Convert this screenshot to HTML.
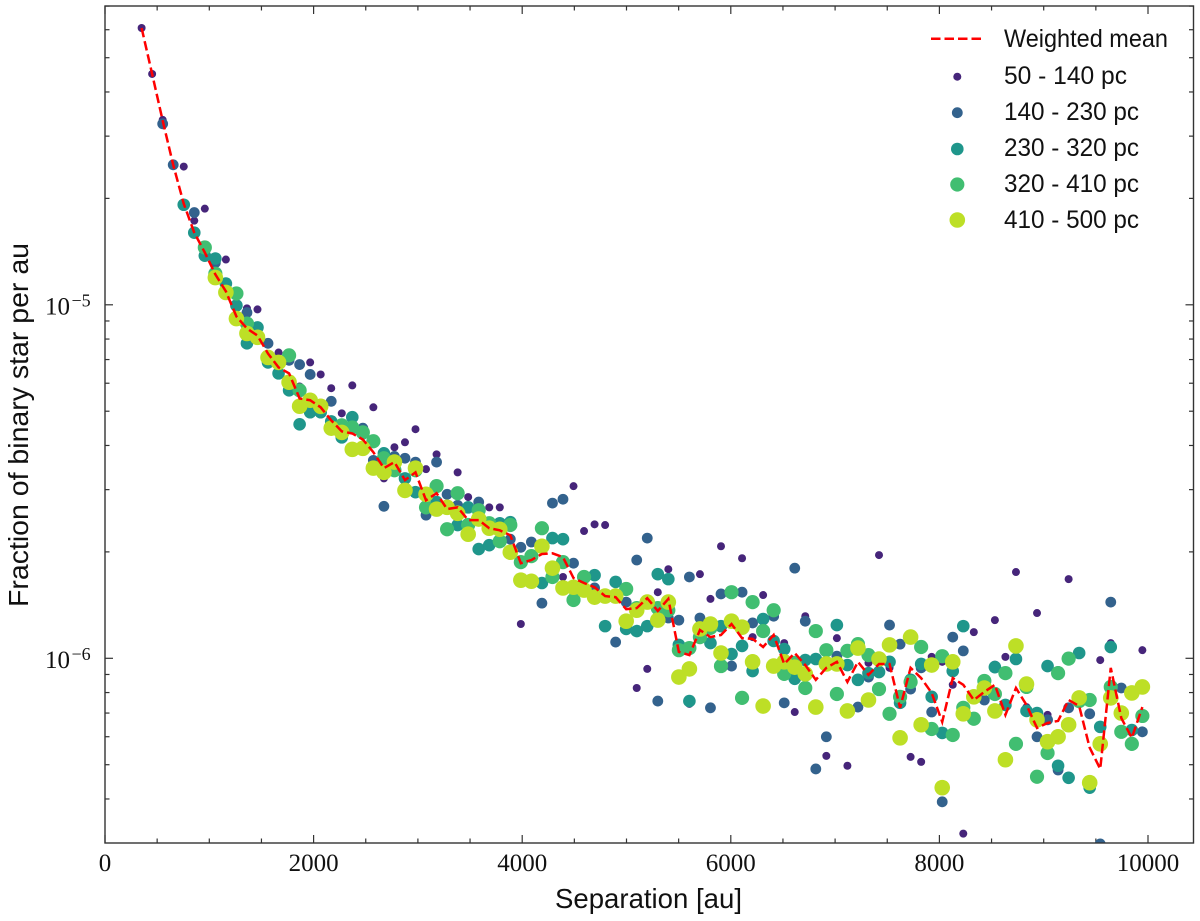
<!DOCTYPE html>
<html>
<head>
<meta charset="utf-8">
<title>Fraction of binary star per au</title>
<style>
html,body{margin:0;padding:0;background:#fff;}
svg{display:block;}
text{fill:#111;}
.sans{font-family:"Liberation Sans",sans-serif;}
.serif{font-family:"Liberation Serif",serif;}
</style>
</head>
<body>
<svg id="chart" xmlns="http://www.w3.org/2000/svg" width="1200" height="921" viewBox="0 0 1200 921">
  <defs><clipPath id="plot-clip"><rect x="105" y="6" width="1088.5" height="837"/></clipPath></defs>
  <rect x="0" y="0" width="1200" height="921" fill="#fff"/>
  <g id="ticks"></g>
  <g id="tick-labels"></g>
  <g id="marks" clip-path="url(#plot-clip)"></g>
  <g id="mean" clip-path="url(#plot-clip)"></g>
  <rect x="105" y="6" width="1088.5" height="837" fill="none" stroke="#333" stroke-width="1.4"/>
  <text class="sans" x="555" y="908" font-size="28" textLength="187" lengthAdjust="spacingAndGlyphs">Separation [au]</text>
  <text class="sans" transform="translate(28,607) rotate(-90)" font-size="28" textLength="364" lengthAdjust="spacingAndGlyphs">Fraction of binary star per au</text>
  <g>
    <line x1="931" y1="38.7" x2="982" y2="38.7" stroke="#ff0000" stroke-width="2.5" stroke-dasharray="9.5 4"/>
    <text class="sans" x="1004" y="47" font-size="25" textLength="164" lengthAdjust="spacingAndGlyphs">Weighted mean</text>
    <circle cx="957.3" cy="76.7" r="4" fill="#46257a"/>
    <text class="sans" x="1004" y="84" font-size="25" textLength="123" lengthAdjust="spacingAndGlyphs">50 - 140 pc</text>
    <circle cx="957.3" cy="112.7" r="5.4" fill="#33628d"/>
    <text class="sans" x="1004" y="120" font-size="25" textLength="135" lengthAdjust="spacingAndGlyphs">140 - 230 pc</text>
    <circle cx="957.3" cy="149" r="6.3" fill="#1f968b"/>
    <text class="sans" x="1004" y="156" font-size="25" textLength="135" lengthAdjust="spacingAndGlyphs">230 - 320 pc</text>
    <circle cx="957.3" cy="184.5" r="7.1" fill="#41be71"/>
    <text class="sans" x="1004" y="192" font-size="25" textLength="135" lengthAdjust="spacingAndGlyphs">320 - 410 pc</text>
    <circle cx="957.3" cy="220" r="7.8" fill="#bddf26"/>
    <text class="sans" x="1004" y="228" font-size="25" textLength="135" lengthAdjust="spacingAndGlyphs">410 - 500 pc</text>
  </g>
</svg>
<script>
const n = null;
// Separation of each bin in au.
const separations = [351,452,553,654,755,856,957,1058,1159,1260,
1361,1462,1563,1664,1765,1866,1967,2068,2169,2270,
2371,2472,2573,2674,2775,2876,2977,3078,3179,3280,
3381,3482,3583,3684,3785,3886,3987,4088,4189,4290,
4391,4492,4593,4694,4795,4896,4997,5098,5199,5300,
5401,5502,5603,5704,5805,5906,6007,6108,6209,6310,
6411,6512,6613,6714,6815,6916,7017,7118,7219,7320,
7421,7522,7623,7724,7825,7926,8027,8128,8229,8330,
8431,8532,8633,8734,8835,8936,9037,9138,9239,9340,
9441,9542,9643,9744,9845,9946];
// log10(fraction of binary star per au), one array per distance range.
const log10Fraction50to140 = [-4.217,-4.347,-4.477,n,-4.609,-4.762,-4.728,n,-4.872,n,
-5.010,-5.013,n,-5.135,n,-5.231,-5.163,-5.197,-5.236,-5.307,
-5.228,n,-5.290,-5.491,-5.403,-5.389,-5.352,-5.465,-5.423,n,
-5.474,-5.544,n,-5.573,-5.573,n,-5.903,n,n,n,
-5.770,-5.513,-5.640,-5.621,-5.623,n,n,-6.084,-6.030,-5.813,
-5.748,n,-6.129,-5.762,-5.832,-5.683,n,-5.717,-5.940,-5.821,
n,-5.957,-6.152,-5.881,n,-6.276,-5.943,-6.304,n,-6.013,
-5.708,-6.027,n,-6.279,-6.293,-5.996,-6.010,-6.075,-6.496,-5.926,
n,-5.892,-5.996,-5.756,-6.138,-5.872,-6.160,-6.033,-5.776,n,
n,-6.005,-5.957,n,n,-5.977];
const log10Fraction140to230 = [n,n,-4.488,-4.604,n,-4.739,n,-4.881,n,n,
-5.022,n,-5.109,n,-5.157,-5.169,-5.197,n,-5.273,n,
n,-5.349,-5.440,-5.570,-5.429,-5.434,-5.445,-5.595,-5.445,-5.536,
-5.567,n,-5.558,n,n,-5.663,-5.686,-5.671,-5.844,-5.561,
-5.550,-5.731,n,-5.801,n,-5.954,-5.841,-5.722,-5.660,-6.121,
-5.886,-5.892,-5.770,-5.886,-6.140,-5.818,-6.022,-5.813,-5.900,n,
-5.881,-6.126,-5.745,-5.895,-6.313,-6.222,-5.994,n,-6.138,-6.053,
n,-5.906,-5.960,-6.087,-6.027,-6.152,-6.406,-5.940,-5.979,n,
-6.118,-6.022,-6.132,n,-6.146,-6.222,-6.174,-6.316,-6.140,n,
-6.157,-6.525,-5.841,-6.084,n,-6.208];
const log10Fraction230to320 = [n,n,n,n,-4.717,-4.796,-4.861,-4.869,-4.940,-5.002,
-5.109,-5.064,-5.163,-5.194,-5.242,-5.338,-5.304,-5.304,-5.330,-5.375,
-5.318,-5.364,n,-5.420,n,-5.491,-5.530,n,-5.558,n,
-5.623,-5.573,-5.691,-5.680,-5.618,-5.615,n,n,-5.787,-5.660,
-5.663,n,n,-5.765,-5.909,-5.784,-5.917,-5.923,-5.909,-5.762,
-5.776,-5.962,-6.121,-5.934,-5.957,-5.909,-5.988,-5.965,-6.036,-5.889,
-5.951,-5.974,-6.058,-6.005,-6.002,n,-5.906,-6.019,-6.061,-6.042,
-6.039,-6.010,-6.126,-6.061,-6.016,-6.109,-6.211,-6.036,-5.909,n,
n,-6.025,-6.132,-6.002,-6.149,-6.155,-6.022,-6.304,-6.338,-5.985,
-6.366,-6.194,-5.968,n,-6.203,n];
const log10Fraction320to410 = [n,n,n,n,n,n,-4.838,-4.912,n,-4.968,
-5.053,n,n,n,-5.143,-5.242,-5.270,-5.290,n,-5.341,
-5.347,-5.361,-5.386,-5.434,-5.468,n,-5.468,-5.573,-5.513,-5.635,
-5.533,-5.623,-5.581,-5.618,-5.669,-5.623,-5.728,-5.711,-5.632,-5.770,
-5.728,-5.835,-5.770,n,n,n,-5.804,-5.858,n,-5.858,
-5.864,-5.977,-5.971,-5.940,-5.914,-6.022,-5.813,-6.112,-5.841,-5.923,
-5.864,-6.044,-6.013,-6.084,-5.923,-5.977,-6.101,-5.979,-5.960,-5.991,
-6.087,-6.157,-6.109,-6.067,-5.968,-6.200,-5.994,-6.217,-6.140,-6.171,
-6.064,-6.101,-6.042,-6.242,-6.081,-6.335,-6.268,-6.042,-6.001,-6.121,
-6.118,n,-6.081,-6.208,-6.242,-6.163];
const log10Fraction410to500 = [n,n,n,n,n,n,n,-4.923,-4.965,-5.039,
-5.081,-5.092,-5.149,-5.163,-5.219,-5.287,-5.270,-5.287,-5.349,-5.361,
-5.409,-5.406,-5.462,-5.474,-5.445,-5.525,-5.462,-5.536,-5.578,-5.573,
-5.590,-5.649,-5.606,-5.632,-5.635,-5.700,-5.779,-5.782,-5.683,-5.745,
-5.801,-5.799,-5.807,-5.827,-5.824,-5.824,-5.895,-5.864,-5.841,-5.892,
-5.841,-6.053,-6.030,-5.917,-5.903,-5.985,-5.895,-5.912,-6.010,-6.135,
-6.022,-6.010,-6.025,-6.044,-6.138,-6.016,-6.016,-6.149,-5.971,-6.118,
-6.002,-5.962,-6.225,-5.940,-6.188,-6.019,-6.366,-6.010,-6.157,-6.109,
-6.084,-6.149,-6.287,-5.965,-6.073,-6.174,-6.236,-6.222,-6.188,-6.112,
-6.352,-6.242,-6.112,-6.155,-6.098,-6.081];
const log10WeightedMean = [-4.217,-4.347,-4.479,-4.604,-4.714,-4.796,-4.852,-4.914,-4.962,-5.033,
-5.067,-5.087,-5.138,-5.177,-5.194,-5.265,-5.270,-5.290,-5.327,-5.358,
-5.364,-5.381,-5.417,-5.462,-5.445,-5.496,-5.474,-5.553,-5.533,-5.578,
-5.573,-5.609,-5.609,-5.632,-5.638,-5.652,-5.731,-5.722,-5.705,-5.703,
-5.714,-5.773,-5.787,-5.799,-5.824,-5.827,-5.861,-5.858,-5.830,-5.866,
-5.832,-5.982,-5.991,-5.920,-5.940,-5.934,-5.903,-5.943,-5.945,-5.968,
-5.934,-6.016,-5.985,-6.019,-6.061,-6.027,-6.010,-6.067,-6.010,-6.047,
-6.016,-6.016,-6.140,-6.027,-6.056,-6.098,-6.180,-6.056,-6.075,-6.118,
-6.095,-6.075,-6.160,-6.084,-6.132,-6.197,-6.183,-6.177,-6.118,-6.135,
-6.253,-6.313,-6.027,-6.169,-6.225,-6.138];
const xMajorTicks = [0,2000,4000,6000,8000,10000];
const xMinorTicks = [500,1000,1500,2500,3000,3500,4500,5000,5500,6500,7000,7500,8500,9000,9500];
const yMajorExponents = [-6,-5];
const yMinorDecades = [-7,-6,-5];
const yMinorMultipliers = [2,3,4,5,6,7,8,9];

const SVGNS = 'http://www.w3.org/2000/svg';
const LEFT = 105, RIGHT = 1193.5, TOP = 6, BOTTOM = 843;
function xScale(v) { return 105 + v * 0.1043; }
function yScale(logv) { return 658.3 - (logv + 6) * 353.5; }
function make(tag, parent) {
  const el = document.createElementNS(SVGNS, tag);
  parent.appendChild(el);
  return el;
}
function setLine(el, x1, y1, x2, y2) {
  el.setAttribute('x1', x1); el.setAttribute('y1', y1);
  el.setAttribute('x2', x2); el.setAttribute('y2', y2);
  el.setAttribute('stroke', '#333');
  el.setAttribute('stroke-width', '1.2');
}

const ticksG = document.getElementById('ticks');
const labelsG = document.getElementById('tick-labels');

function xTicks(list, len, name) {
  list.forEach(function (v) {
    const x = xScale(v);
    const b = make('line', ticksG);
    
    
    setLine(b, x, BOTTOM, x, BOTTOM - len);
    const t = make('line', ticksG);
    
    
    setLine(t, x, TOP, x, TOP + len);
  });
}
xTicks(xMajorTicks, 8, 'x-major-tick');
xTicks(xMinorTicks, 4.5, 'x-minor-tick');

function yTick(logv, len, name) {
  const y = yScale(logv);
  if (y < TOP || y > BOTTOM) return;
  const l = make('line', ticksG);
  
  
  setLine(l, LEFT, y, LEFT + len, y);
  const r = make('line', ticksG);
  
  
  setLine(r, RIGHT, y, RIGHT - len, y);
}
yMajorExponents.forEach(function (e) { yTick(e, 8, 'y-major-tick'); });
yMinorDecades.forEach(function (d) {
  yMinorMultipliers.forEach(function (m) { yTick(d + Math.log10(m), 4.5, 'y-minor-tick'); });
});

xMajorTicks.forEach(function (v) {
  const t = make('text', labelsG);
  
  
  t.setAttribute('class', 'serif');
  t.setAttribute('x', xScale(v));
  t.setAttribute('y', 871);
  t.setAttribute('font-size', '25');
  t.setAttribute('text-anchor', 'middle');
  t.textContent = String(v);
});
yMajorExponents.forEach(function (e) {
  const y = yScale(e);
  const base = make('text', labelsG);
  
  
  base.setAttribute('class', 'serif');
  base.setAttribute('x', 70);
  base.setAttribute('y', y + 9.5);
  base.setAttribute('font-size', '25');
  base.setAttribute('text-anchor', 'end');
  base.textContent = '10';
  const exp = make('text', labelsG);
  
  
  exp.setAttribute('class', 'serif');
  exp.setAttribute('x', 71.5);
  exp.setAttribute('y', y + 1.5);
  exp.setAttribute('font-size', '18');
  exp.textContent = '\u2212' + Math.abs(e);
});

const marksG = document.getElementById('marks');
function drawSeries(values, radius, color, name) {
  const g = make('g', marksG);
  
  
  values.forEach(function (v, i) {
    if (v === null) return;
    const c = make('circle', g);
    
    
    c.setAttribute('cx', xScale(separations[i]).toFixed(2));
    c.setAttribute('cy', yScale(v).toFixed(2));
    c.setAttribute('r', radius);
    c.setAttribute('fill', color);
  });
}
drawSeries(log10Fraction50to140, 4, '#46257a', 'series-50-140-pc');
drawSeries(log10Fraction140to230, 5.4, '#33628d', 'series-140-230-pc');
drawSeries(log10Fraction230to320, 6.3, '#1f968b', 'series-230-320-pc');
drawSeries(log10Fraction320to410, 7.1, '#41be71', 'series-320-410-pc');
drawSeries(log10Fraction410to500, 7.8, '#bddf26', 'series-410-500-pc');

const meanG = document.getElementById('mean');
const meanPath = make('path', meanG);


meanPath.setAttribute('d', log10WeightedMean.map(function (v, i) {
  return (i ? 'L' : 'M') + xScale(separations[i]).toFixed(2) + ' ' + yScale(v).toFixed(2);
}).join(' '));
meanPath.setAttribute('fill', 'none');
meanPath.setAttribute('stroke', '#ff0000');
meanPath.setAttribute('stroke-width', '2.5');
meanPath.setAttribute('stroke-dasharray', '9.5 4');
</script>
</body>
</html>
